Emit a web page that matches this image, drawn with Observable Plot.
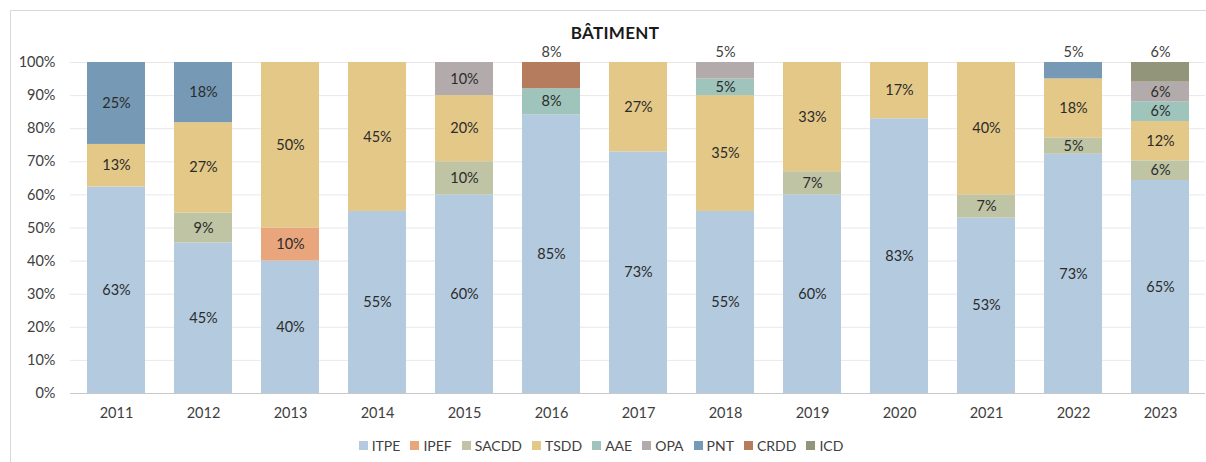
<!DOCTYPE html>
<html>
<head>
<meta charset="utf-8">
<script src="https://cdn.jsdelivr.net/npm/d3@7"></script>
<script src="https://cdn.jsdelivr.net/npm/@observablehq/plot@0.6"></script>
<style>
  html, body { margin: 0; padding: 0; background: #fff; overflow: hidden; }
  body { width: 1206px; height: 462px; font-family: Lato, "Open Sans", sans-serif; }
  #frame { position: absolute; left: 10px; top: 10px; width: 1208px; height: 460px; border: 1px solid #d9d9d9; box-sizing: content-box; }
  #title { height: 31px; box-sizing: border-box; padding-top: 13px; text-align: center; font-size: 17px; line-height: 18px; font-weight: bold; color: #1a1a1a; letter-spacing: 0.3px; }
  #legend { display: flex; justify-content: center; align-items: center; height: 30px; font-size: 14px; color: #404040; padding-right: 28px; }
  .item { display: flex; align-items: center; margin: 0 5px; }
  .sw { width: 9px; height: 9px; margin-right: 4px; }
</style>
</head>
<body>
<div id="frame">
  <div id="title">BÂTIMENT</div>
  <div id="chart"></div>
  <div id="legend"></div>
</div>
<script>
const years = ["2011","2012","2013","2014","2015","2016","2017","2018","2019","2020","2021","2022","2023"];
const categories = ["ITPE","IPEF","SACDD","TSDD","AAE","OPA","PNT","CRDD","ICD"];
const colors = ["#b3cadf","#e9a67d","#bec4a4","#e4c888","#9fc4bb","#b3abab","#7699b5","#b57c5d","#929579"];

const ITPE  = [63,45,40,55,60,85,73,55,60,83,53,73,65];
const IPEF  = [0,0,10,0,0,0,0,0,0,0,0,0,0];
const SACDD = [0,9,0,0,10,0,0,0,7,0,7,5,6];
const TSDD  = [13,27,50,45,20,0,27,35,33,17,40,18,12];
const AAE   = [0,0,0,0,0,8,0,5,0,0,0,0,6];
const OPA   = [0,0,0,0,10,0,0,5,0,0,0,0,6];
const PNT   = [25,18,0,0,0,0,0,0,0,0,0,5,0];
const CRDD  = [0,0,0,0,0,8,0,0,0,0,0,0,0];
const ICD   = [0,0,0,0,0,0,0,0,0,0,0,0,6];

// segments whose label sits above the bar
const labelsAbove = ["2016|CRDD","2018|OPA","2022|PNT","2023|ICD"];

const seriesValues = [ITPE, IPEF, SACDD, TSDD, AAE, OPA, PNT, CRDD, ICD];
const rows = [];
categories.forEach((cat, ci) => {
  years.forEach((year, yi) => {
    const v = seriesValues[ci][yi];
    if (v > 0) rows.push({year, cat, value: v, above: labelsAbove.includes(year + "|" + cat)});
  });
});

const font = "Lato, 'Open Sans', sans-serif";
const stackOpts = {x: "year", y: "value", z: "cat", order: categories, offset: "normalize"};

const chart = Plot.plot({
  width: 1208,
  height: 388,
  marginTop: 20,
  marginBottom: 37,
  marginLeft: 59,
  marginRight: 14,
  style: {fontFamily: font, fontSize: "14.5px", color: "#404040", background: "#fff"},
  x: {domain: years, paddingInner: 0.335, paddingOuter: 0.1675, label: null, tickSize: 0, tickPadding: 14},
  y: {domain: [0, 1], ticks: d3.range(0, 1.0001, 0.1), tickFormat: d3.format(".0%"), label: null, tickSize: 0, tickPadding: 15},
  color: {domain: categories, range: colors},
  marks: [
    Plot.gridY(d3.range(0.1, 1.0001, 0.1), {stroke: "#d9d9d9", strokeOpacity: 0.6}),
    Plot.ruleY([0], {stroke: "#c8c8c8", strokeWidth: 1.2}),
    Plot.barY(rows, Plot.stackY({...stackOpts, fill: "cat", inset: 0})),
    Plot.text(rows, Plot.stackY({...stackOpts, text: d => d.above ? "" : d.value + "%", fill: "#2b2b2b", fontSize: 14.5})),
    Plot.text(rows.filter(d => d.above), {x: "year", y: 1, dy: -10, text: d => d.value + "%", fill: "#404040", fontSize: 14.5})
  ]
});
document.getElementById("chart").appendChild(chart);

const legend = document.getElementById("legend");
categories.forEach((c, i) => {
  const it = document.createElement("div");
  it.className = "item";
  const sw = document.createElement("div");
  sw.className = "sw";
  sw.style.background = colors[i];
  const tx = document.createElement("span");
  tx.textContent = c;
  it.appendChild(sw); it.appendChild(tx);
  legend.appendChild(it);
});
</script>
</body>
</html>
